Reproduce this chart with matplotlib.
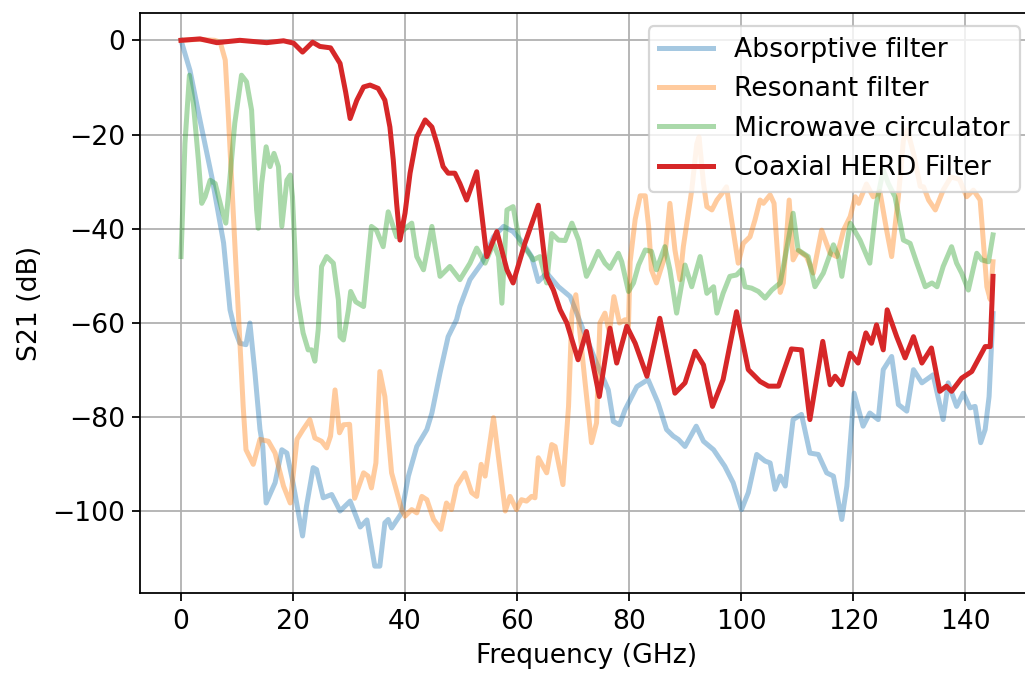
import matplotlib
matplotlib.use("Agg")
import matplotlib.pyplot as plt

# Absorptive filter
f_abs = [0, 1.6, 3.4, 5.5, 7.6, 8.75, 9.6, 10.5, 11.6, 12.3, 13.2, 14.1, 14.6, 15.2,
         16.8, 18.0, 18.9, 20.0, 21.7, 22.4, 23.6, 24.2, 25.4, 26.9, 28.4, 30.2, 32.0,
         33.2, 34.6, 35.5, 36.4, 37.0, 37.6, 39.4, 40.6, 42.1, 43.9, 44.8, 46.25, 47.7,
         49.2, 49.8, 51.6, 53.7, 55.8, 57.6, 59.3, 61.1, 62.6, 63.8, 65.3, 67.4, 69.5,
         71.8, 74.2, 76.3, 77.2, 78.3, 79.3, 81.4, 83.4, 85.2, 86.7, 87.9, 88.8, 90.0,
         92.0, 93.3, 95.1, 97.1, 98.6, 100.1, 101.3, 102.8, 104.3, 105.2, 106.1, 107.0,
         107.9, 109.3, 110.8, 112.3, 113.8, 115.3, 116.5, 118.0, 118.9, 120.2, 121.8,
         123.0, 124.5, 125.4, 126.9, 128.1, 129.6, 130.8, 132.3, 134.3, 136.1, 137.0,
         138.5, 139.7, 140.9, 141.8, 142.8, 143.6, 144.3, 145.0]
s_abs = [0, -6.4, -17, -29, -43, -57.2, -61.4, -64.3, -64.6, -60, -70.6, -82.6, -86.2, -98.2,
         -93.9, -86.9, -87.6, -93.9, -105.2, -98.9, -90.7, -91.1, -97.1, -96.4, -99.9, -97.8, -103.3,
         -101.8, -111.6, -111.6, -102.4, -101.7, -103.5, -100.3, -92.5, -86.2, -82.6, -79.1, -70.6, -62.9,
         -59.3, -56.5, -50.8, -47.3, -41.7, -39.5, -40.6, -43.1, -45.9, -51.2, -49.4, -52.3, -54.4,
         -61.4, -68.5, -74.2, -80.9, -81.6, -78.4, -73.5, -72, -77, -82.6, -84, -84.7, -86.2,
         -81.9, -85.1, -86.9, -90.4, -93.9, -99.6, -96, -87.9, -89.3, -89.7, -95.3, -92.5,
         -94.6, -80.5, -79.4, -87.6, -87.9, -91.8, -92.5, -101.7, -94.6, -74.9, -81.9,
         -79.1, -80.5, -69.9, -67.1, -77.3, -78.7, -69.9, -72.7, -71, -80.5, -72.7,
         -77.7, -74.9, -78, -77.7, -85.4, -82.6, -75.6, -58]

# Resonant filter
f_res = [0, 3, 6, 7.0, 7.9, 8.4, 9.0, 9.6, 10.5, 11.1, 11.6, 12.9, 14.1, 15.6, 16.8, 18.3,
         19.5, 20.7, 21.8, 23.0, 23.9, 25.1, 26.0, 26.7, 27.5, 28.3, 29.0, 30.1, 31.0, 32.6,
         33.4, 34.0, 34.8, 35.5, 36.4, 37.6, 39.4, 40.0, 41.2, 42.1, 43.0, 43.9, 45.1, 46.4,
         47.4, 48.3, 49.2, 50.7, 51.9, 52.8, 53.6, 54.3, 55.8, 57.9, 58.75, 59.9, 60.8, 61.7,
         62.6, 63.2, 63.8, 65.3, 66.2, 66.8, 68.2, 69.2, 69.8, 70.5, 71.0, 72.1, 73.3, 74.2,
         74.8, 75.7, 76.5, 77.3, 78.3, 79.3, 79.9, 80.2, 81.1, 82.0, 82.9, 83.5, 84.0, 84.9,
         86.4, 87.3, 88.2, 89.1, 89.7, 91.2, 92.1, 92.5, 93.3, 93.9, 94.8, 95.7, 96.6, 97.4,
         98.3, 99.5, 100.4, 101.0, 101.6, 102.5, 103.4, 104.0, 105.2, 105.9, 107.0, 107.55,
         108.6, 109.3, 110.2, 111.7, 112.9, 114.4, 115.9, 117.1, 118.3, 119.5, 120.4, 121.0,
         122.4, 123.6, 124.8, 126.0, 126.9, 128.1, 129.0, 129.7, 130.8, 132.0, 132.6, 133.5,
         134.7, 136.1, 137.5, 139.0, 140.3, 141.5, 142.7, 143.3, 143.9, 144.5, 145.0]
s_res = [0, 0.2, 0, -0.4, -4.2, -14.8, -29, -43, -63.6, -77.7, -86.9, -90, -84.7, -85.1, -87.6, -94.6,
         -98.2, -84.7, -82.6, -80.5, -84.4, -85.1, -86.5, -84, -74.2, -83.3, -81.6, -81.5, -97.2, -91.8,
         -92.5, -95, -89.7, -70.3, -75.6, -91.8, -99.6, -101, -99.6, -100.3, -96.8, -97.5, -101.7, -103.8,
         -98.2, -99.6, -94.6, -91.8, -96, -96.8, -90, -92.5, -80.1, -99.9, -96.8, -99.6, -97.5, -97.8,
         -96.8, -97.1, -88.6, -91.8, -85.8, -86.2, -94.3, -77.7, -58, -54, -59.3, -72, -85.4, -81.2,
         -60, -57.9, -62, -54.4, -60, -59.3, -60.7, -47, -38, -33, -33, -39.5, -48.7, -51.5,
         -45.9, -34.6, -44.5, -50.8, -43.8, -31.8, -22, -20.5, -30.4, -35.3, -36, -33.9, -32.5, -31.1,
         -38.1, -47.3, -43.1, -42.4, -41.7, -38.1, -33.9, -34.6, -32.8, -34.6, -53.5, -51.5,
         -33.9, -46.6, -44.6, -45.9, -49.4, -40.3, -45.2, -45.9, -40.3, -37.4, -33.2, -34.6,
         -30.5, -33.2, -32.1, -40.3, -45.9, -33.2, -21.2, -19, -24, -31, -31.1, -33.9,
         -36, -31.8, -29, -29.5, -33.2, -31.8, -33.9, -43.1, -52.3, -55, -47]

# Microwave circulator
f_circ = [0, 0.7, 1.5, 2.2, 3.1, 3.7, 4.3, 5.2, 6.1, 7.3, 8.0, 8.75, 9.6, 10.8, 11.7, 12.6,
          13.5, 13.8, 14.4, 15.2, 15.9, 16.6, 17.4, 18.0, 18.9, 19.5, 19.9, 20.7, 21.8, 22.7,
          23.3, 23.9, 24.5, 25.1, 26.0, 27.2, 28.1, 28.4, 29.0, 29.9, 30.3, 31.2, 32.6, 34.0,
          34.9, 36.1, 37.0, 38.5, 39.7, 41.2, 42.1, 43.3, 44.8, 46.25, 48.0, 49.8, 51.6, 52.8,
          54.3, 55.8, 56.7, 57.3, 58.2, 59.3, 60.5, 61.7, 62.9, 64.1, 65.3, 66.2, 67.4, 68.6,
          69.8, 71.0, 72.4, 73.3, 74.5, 75.7, 76.6, 78.1, 78.7, 79.9, 80.8, 81.7, 82.9, 84.0,
          84.9, 86.4, 87.3, 88.5, 90.0, 91.2, 92.7, 93.9, 95.1, 95.7, 96.8, 98.0, 99.2, 100.1,
          100.7, 101.9, 103.1, 104.3, 105.5, 107.0, 108.2, 109.3, 110.2, 111.1, 112.0, 113.2,
          114.7, 116.5, 117.4, 118.0, 119.5, 121.25, 123.0, 124.2, 125.4, 126.3, 127.5, 129.0,
          130.2, 131.4, 132.9, 134.1, 135.0, 136.1, 137.6, 138.5, 139.4, 140.6, 142.1, 143.0,
          144.2, 145.0]
s_circ = [-45.9, -21.9, -7.4, -13.4, -25.4, -34.6, -33.2, -29.7, -30.4, -36, -38.8, -29, -17.6, -7.4, -8.8, -14.8,
          -36, -39.9, -30.4, -22.6, -26.8, -24, -26.8, -39.5, -29.7, -28.6, -33.2, -54, -62.1, -65.7,
          -65.7, -68.1, -61.4, -48, -45.9, -47.3, -55.1, -62.9, -63.6, -57.2, -53.3, -55.5, -56.5, -39.5,
          -40.3, -43.8, -36.4, -41.7, -40.3, -38.8, -45.9, -48.7, -39.5, -50.1, -48, -50.8, -47.3, -44.1,
          -47.3, -43.1, -45.9, -55.8, -36, -35.3, -43.1, -44.5, -46.6, -45.9, -51.5, -41, -42.4, -42.5,
          -38.8, -42.4, -50.1, -48, -44.8, -47.3, -48.4, -45.2, -47, -53.3, -51.5, -47.7, -44.5, -44.8,
          -48.7, -43.8, -48.7, -57.9, -47.7, -52.3, -45.9, -53.7, -52.3, -57.9, -53.7, -50.1, -49.8, -48.7,
          -52.3, -52.6, -53.3, -54.7, -53, -51.5, -44, -36.7, -44.5, -45.2, -45.9, -52.3,
          -49.4, -43.4, -45.9, -50.1, -38.8, -42.4, -47.3, -34.6, -27.5, -30.4, -33.2, -42.4,
          -43.1, -47.3, -52.3, -51.5, -52.3, -48, -43.8, -47.3, -49.4, -53, -45.2, -46.6,
          -47, -41.3]

# Coaxial HERD Filter
f_herd = [0, 3.4, 6.4, 10.5, 15.3, 18.3, 20.1, 21.7, 23.5, 24.8, 26.7, 28.4, 29.4, 30.2,
          31.4, 32.6, 33.75, 35.2, 36.4, 37.3, 37.9, 38.5, 39.1, 40.0, 40.9, 42.1, 43.6,
          44.8, 45.7, 46.8, 47.7, 48.9, 49.8, 51.0, 52.8, 54.6,
          56.4, 58.2, 59.3, 61.4, 63.8, 65.3, 66.5, 67.7, 68.9, 70.9, 72.4, 74.7, 76.6, 77.8,
          79.6, 81.1, 83.2, 85.5, 88.2, 90.0, 91.8, 93.3, 94.9, 96.8, 99.2, 101.3, 103.4,
          104.9, 106.7, 109.0, 110.8, 112.3, 114.6, 115.9, 116.8, 118.0, 119.5, 120.9, 122.3,
          123.3, 124.2, 125.4, 126.1, 127.8, 129.3, 130.8, 132.3, 134.0, 135.5, 136.7, 137.6,
          139.4, 141.2, 143.6, 144.5, 145.0]
s_herd = [0, 0.3, -0.5, 0, -0.5, -0.1, -0.6, -2.5, -0.4, -1.3, -1.6, -4.9, -11, -16.6,
          -12.7, -9.9, -9.5, -10.2, -12.7, -18.4, -25.4, -34.6, -42.4, -36.7, -28.2, -20.5, -16.9,
          -18.4, -21.9, -26.8, -28.2, -28.2, -30.4, -33.9, -27.9, -45.9,
          -40.6, -48.7, -51.5, -43.1, -35, -50.1, -53, -57.2, -60, -67.8, -61.8, -75.6, -61.1, -68.5,
          -60.7, -64.3, -71.3, -59, -74.9, -72.7, -66, -68.9, -77.7, -72, -57.6, -69.9, -72.4,
          -73.4, -73.4, -65.5, -65.7, -80.5, -63.9, -73.1, -71.3, -73.1, -66.4, -68.5, -62.1,
          -64.3, -60.4, -65.7, -57.2, -62.9, -67.4, -62.9, -68.5, -65.3, -74.5, -73.4, -74.5,
          -71.7, -70.3, -65, -65, -50.1]

plt.rcParams['font.size'] = 12

fig = plt.figure(figsize=(1025 / 160, 673 / 160), dpi=160)
# the reference is cropped on the right and bottom, so the axes run past the figure edge
ax = fig.add_axes([0.137, 0.1189, 0.8714, 0.8618])

lw = 2.25
ax.plot(f_abs, s_abs, color="tab:blue", alpha=0.4, lw=lw, label="Absorptive filter")
ax.plot(f_res, s_res, color="tab:orange", alpha=0.4, lw=lw, label="Resonant filter")
ax.plot(f_circ, s_circ, color="tab:green", alpha=0.4, lw=lw, label="Microwave circulator")
ax.plot(f_herd, s_herd, color="tab:red", lw=lw, label="Coaxial HERD Filter")

ax.set_xlim(-7.25, 152.25)
ax.set_ylim(-117.3, 5.8)
ax.set_xticks([0, 20, 40, 60, 80, 100, 120, 140])
ax.set_yticks([-100, -80, -60, -40, -20, 0])
ax.grid(True)
ax.set_xlabel("Frequency (GHz)")
ax.set_ylabel("S21 (dB)")
ax.legend(loc="upper right")

fig.savefig("out.png", dpi=160)
